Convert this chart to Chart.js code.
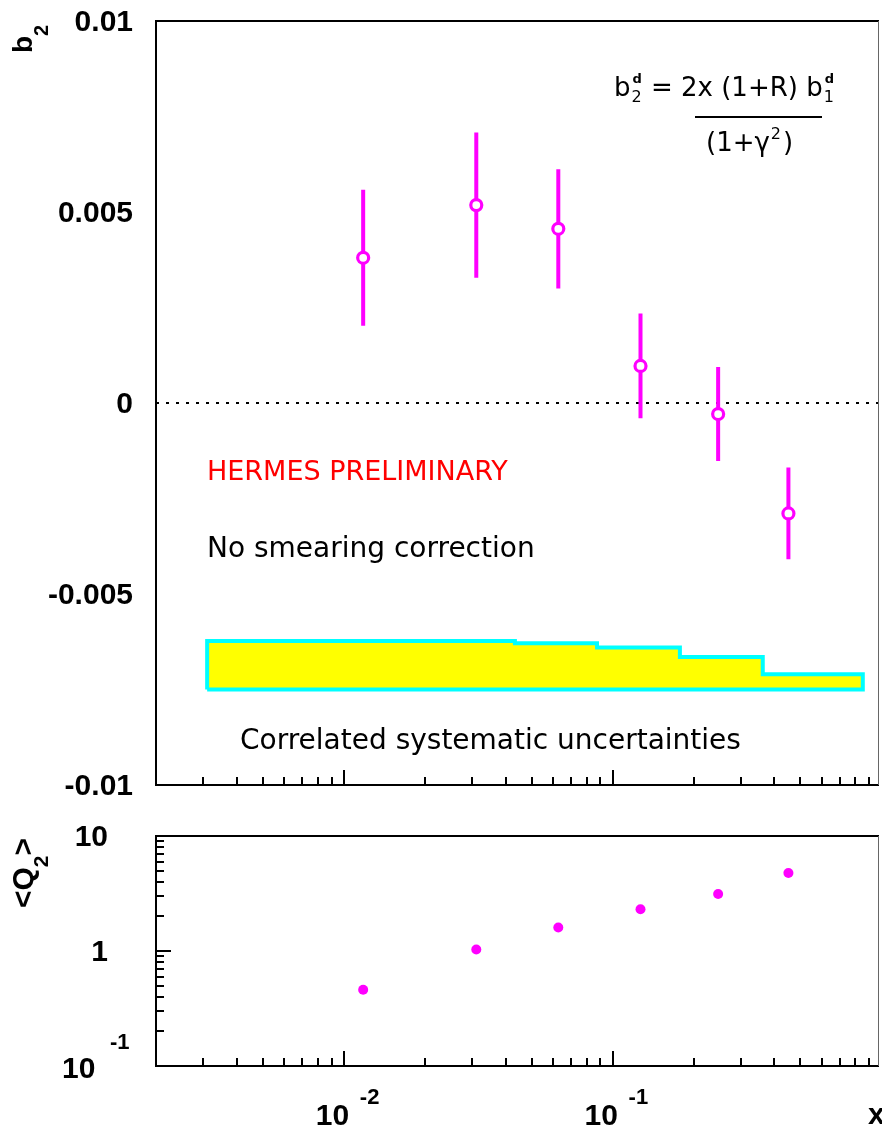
<!DOCTYPE html>
<html><head><meta charset="utf-8">
<script src="https://cdn.jsdelivr.net/npm/chart.js@4.4.1/dist/chart.umd.min.js"></script>
<style>
html,body{margin:0;padding:0;background:#fff;}
#wrap{position:relative;width:882px;height:1130px;overflow:hidden;background:#fff;}
canvas{position:absolute;left:0;}
#c1{top:0;} #c2{top:810px;}
</style></head><body>
<div id="wrap"><canvas id="c1" width="882" height="810"></canvas><canvas id="c2" width="882" height="320"></canvas></div>
<script>
// ---- data ----
const xValues   = [0.0118, 0.0311, 0.0628, 0.127, 0.247, 0.451];
const b2Values  = [0.00380, 0.00518, 0.00456, 0.00097, -0.00029, -0.00289];
const b2StatErr = [0.00178, 0.00190, 0.00156, 0.00137, 0.00123, 0.00120];
const q2Values  = [0.46, 1.03, 1.60, 2.31, 3.13, 4.77];
const sysEdges  = [0.0031, 0.0433, 0.0875, 0.178, 0.362, 0.853];
const sysLevels = [-0.00623, -0.00629, -0.00640, -0.00665, -0.00710];
const sysBase   = -0.0075;
const b2TickValues = [-0.01, -0.005, 0, 0.005, 0.01];
const b2TickLabels = ['-0.01', '-0.005', '0', '0.005', '0.01'];
const q2TickValues = [1, 10];
const q2TickLabels = ['1', '10'];
const xTickValues  = [0.01, 0.1];
const xTickExps    = ['-2', '-1'];
const xRange = [0.002, 0.98];
const b2Range = [-0.01, 0.01];
const q2Range = [0.1, 10];

const MAG = '#ff00ff';
const BOLD = '"Liberation Sans", Arial, sans-serif';
const THIN = '"DejaVu Sans", sans-serif';
Chart.defaults.font.family = BOLD;

// systematic band polygon built from the edges / levels
const sysPoly = [{x: sysEdges[0], y: sysBase}];
sysLevels.forEach((lv, i) => {
  sysPoly.push({x: sysEdges[i], y: lv});
  sysPoly.push({x: sysEdges[i + 1], y: lv});
});
sysPoly.push({x: sysEdges[sysEdges.length - 1], y: sysBase});
sysPoly.push({x: sysEdges[0], y: sysBase});

// error bars as separated segments
const errSegs = [];
xValues.forEach((x, i) => {
  errSegs.push({x, y: b2Values[i] - b2StatErr[i]});
  errSegs.push({x, y: b2Values[i] + b2StatErr[i]});
  errSegs.push({x, y: null});
});
const b2Pts = xValues.map((x, i) => ({x, y: b2Values[i]}));
const q2Pts = xValues.map((x, i) => ({x, y: q2Values[i]}));

function line(ctx, x1, y1, x2, y2) { ctx.beginPath(); ctx.moveTo(x1, y1); ctx.lineTo(x2, y2); ctx.stroke(); }

function rotText(ctx, x, y, parts) {
  ctx.save(); ctx.translate(x, y); ctx.rotate(-Math.PI / 2);
  let cx = 0;
  parts.forEach(p => { ctx.font = p.font; ctx.fillText(p.t, cx, p.dy || 0); cx += ctx.measureText(p.t).width + (p.gap || 0); });
  ctx.restore();
}

function fixAxis(w, h) {
  return s => {
    if (w !== null) s.width = w;
    if (h !== null) s.height = h;
    s.paddingTop = 0; s.paddingBottom = 0; s.paddingLeft = 0; s.paddingRight = 0;
  };
}

const decor = {
  id: 'decor',
  afterDraw(chart, args, opts) {
    const ctx = chart.ctx, a = chart.chartArea, xs = chart.scales.x, ys = chart.scales.y;
    ctx.save();
    ctx.strokeStyle = '#000'; ctx.lineWidth = 2; ctx.lineCap = 'butt';
    // x ticks (inward, bottom)
    for (let d = -3; d <= 0; d++) for (let m = 1; m <= 9; m++) {
      const v = m * Math.pow(10, d);
      if (v <= xs.min * 1.0001 || v >= xs.max * 0.9999) continue;
      const px = Math.round(xs.getPixelForValue(v));
      line(ctx, px, a.bottom, px, a.bottom - (m === 1 ? 15 : 8));
    }
    if (opts.logY) {
      for (let d = -1; d <= 1; d++) for (let m = 1; m <= 9; m++) {
        const v = m * Math.pow(10, d);
        if (v <= ys.min * 1.0001 || v >= ys.max * 0.9999) continue;
        const py = Math.round(ys.getPixelForValue(v));
        line(ctx, a.left, py, a.left + (m === 1 ? 15 : 8), py);
      }
    }
    // frame
    ctx.lineWidth = 2; ctx.strokeStyle = '#000';
    line(ctx, a.left, a.top, a.right, a.top);
    line(ctx, a.left, a.top - 1, a.left, a.bottom + 1);
    line(ctx, a.left - 1, a.bottom, a.right, a.bottom);
    ctx.lineWidth = 1; ctx.strokeStyle = '#666';
    line(ctx, a.right - 0.5, a.top, a.right - 0.5, a.bottom);
    ctx.fillStyle = '#000';
    if (opts.texts) opts.texts(chart, ctx);
    ctx.restore();
  }
};

function topTexts(chart, ctx) {
  // axis title b_2
  ctx.fillStyle = '#000';
  rotText(ctx, 32, 53, [{t: 'b', font: 'bold 28px ' + BOLD}, {t: '2', font: 'bold 20px ' + BOLD, dy: 16}]);
  // annotations
  ctx.font = '27px ' + THIN;
  ctx.fillStyle = '#ff0000';
  ctx.fillText('HERMES PRELIMINARY', 207, 480);
  ctx.fillStyle = '#000';
  ctx.font = '28px ' + THIN;
  ctx.fillText('No smearing correction', 207, 557);
  ctx.fillText('Correlated systematic uncertainties', 240, 749);
  // formula
  const big = '26px ' + THIN, sub = '16px ' + THIN, sup = 'bold 13px ' + THIN;
  let x = 614; const y = 96;
  ctx.font = big; ctx.fillText('b', x, y); x += ctx.measureText('b').width;
  ctx.font = sub; ctx.fillText('2', x + 1, y + 6);
  ctx.font = sup; ctx.fillText('d', x + 2, y - 13);
  ctx.font = sub; x += ctx.measureText('2').width + 2;
  ctx.font = big; const s = ' = 2x (1+R) b'; ctx.fillText(s, x, y); x += ctx.measureText(s).width;
  ctx.font = sub; ctx.fillText('1', x + 1, y + 6);
  ctx.font = sup; ctx.fillText('d', x + 2, y - 13);
  ctx.fillRect(695, 116, 127, 2);
  ctx.font = big; let x2 = 706; const y2 = 151;
  ctx.fillText('(1+γ', x2, y2); x2 += ctx.measureText('(1+γ').width;
  ctx.font = sub; ctx.fillText('2', x2 + 1, y2 - 12); x2 += ctx.measureText('2').width + 3;
  ctx.font = big; ctx.fillText(')', x2, y2);
}

function bottomTexts(chart, ctx) {
  const xs = chart.scales.x;
  ctx.fillStyle = '#000';
  rotText(ctx, 33, 908 - 810, [
    {t: '<', font: 'bold 30px ' + BOLD},
    {t: 'Q', font: 'bold 30px ' + BOLD},
    {t: '2', font: 'bold 21px ' + BOLD, dy: 15},
    {t: '>', font: 'bold 30px ' + BOLD}
  ]);
  // y label 10^-1 at bottom
  ctx.font = 'bold 30px ' + BOLD; ctx.fillText('10', 62, 1078 - 810);
  ctx.font = 'bold 22px ' + BOLD; ctx.fillText('-1', 110, 1049 - 810);
  // x tick labels
  xTickValues.forEach((v, i) => {
    const px = xs.getPixelForValue(v);
    ctx.font = 'bold 30px ' + BOLD; ctx.fillText('10', px - 28, 1125 - 810);
    ctx.font = 'bold 22px ' + BOLD; ctx.fillText(xTickExps[i], px + 16, 1104 - 810);
  });
  ctx.font = 'bold 30px ' + BOLD; ctx.fillText('x', 868, 1124 - 810);
}

const commonX = {
  type: 'logarithmic', min: xRange[0], max: xRange[1],
  ticks: {display: false}, grid: {display: false, drawTicks: false}, border: {display: false}
};

new Chart(document.getElementById('c1'), {
  type: 'scatter',
  data: {datasets: [
    {data: b2Pts, order: 0, pointRadius: 5.5, pointBorderWidth: 3.2, pointBorderColor: MAG, pointBackgroundColor: '#fff', showLine: false},
    {data: errSegs, order: 1, showLine: true, spanGaps: false, pointRadius: 0, borderColor: MAG, borderWidth: 4, borderCapStyle: 'butt'},
    {data: [{x: xRange[0], y: 0}, {x: xRange[1], y: 0}], order: 2, showLine: true, pointRadius: 0, borderColor: '#000', borderWidth: 2, borderDash: [3, 7]},
    {data: sysPoly, order: 3, showLine: true, pointRadius: 0, borderColor: '#00ffff', borderWidth: 4, borderJoinStyle: 'miter', backgroundColor: '#ffff00', fill: 'shape', tension: 0}
  ]},
  options: {
    responsive: false, animation: false, devicePixelRatio: 1,
    layout: {autoPadding: false, padding: {top: 21, right: 3, left: 0, bottom: 0}},
    plugins: {legend: {display: false}, tooltip: {enabled: false}, decor: {logY: false, texts: topTexts}},
    scales: {
      x: Object.assign({}, commonX, {afterFit: fixAxis(null, 25)}),
      y: {
        type: 'linear', min: b2Range[0], max: b2Range[1],
        afterBuildTicks: s => { s.ticks = b2TickValues.map(v => ({value: v})); },
        afterFit: fixAxis(156, null),
        ticks: {color: '#000', padding: 23, labelOffset: 2, font: {size: 30, weight: 'bold', family: BOLD},
          callback: v => { const i = b2TickValues.findIndex(t => Math.abs(t - v) < 1e-9); return i >= 0 ? b2TickLabels[i] : ''; }},
        grid: {display: false, drawTicks: false}, border: {display: false}
      }
    }
  },
  plugins: [decor]
});

new Chart(document.getElementById('c2'), {
  type: 'scatter',
  data: {datasets: [
    {data: q2Pts, pointRadius: 5, pointBorderWidth: 0, pointBackgroundColor: MAG, pointBorderColor: MAG, showLine: false}
  ]},
  options: {
    responsive: false, animation: false, devicePixelRatio: 1,
    layout: {autoPadding: false, padding: {top: 26, right: 3, left: 0, bottom: 0}},
    plugins: {legend: {display: false}, tooltip: {enabled: false}, decor: {logY: true, texts: bottomTexts}},
    scales: {
      x: Object.assign({}, commonX, {afterFit: fixAxis(null, 64)}),
      y: {
        type: 'logarithmic', min: q2Range[0], max: q2Range[1],
        afterBuildTicks: s => { s.ticks = q2TickValues.map(v => ({value: v})); },
        afterFit: fixAxis(156, null),
        ticks: {color: '#000', padding: 48, labelOffset: 2, font: {size: 30, weight: 'bold', family: BOLD},
          callback: v => { const i = q2TickValues.findIndex(t => Math.abs(t - v) < 1e-9 * t); return i >= 0 ? q2TickLabels[i] : ''; }},
        grid: {display: false, drawTicks: false}, border: {display: false}
      }
    }
  },
  plugins: [decor]
});
</script>
</body></html>
